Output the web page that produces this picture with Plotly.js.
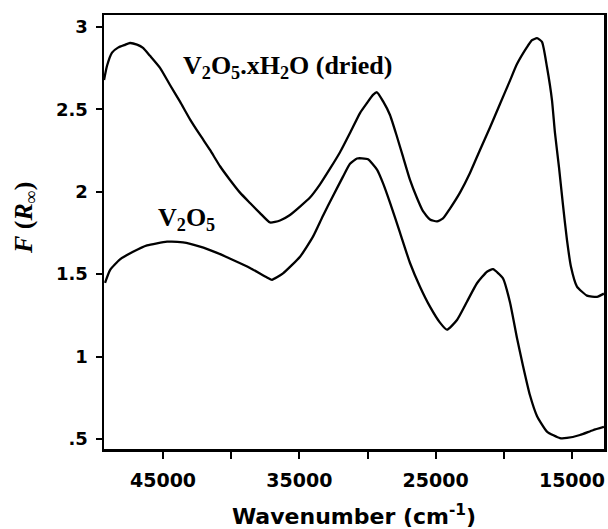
<!DOCTYPE html>
<html>
<head>
<meta charset="utf-8">
<script src="https://cdn.plot.ly/plotly-3.0.1.min.js"></script>
<style>html,body{margin:0;padding:0;background:#fff;}#chart{width:608px;height:529px;}</style>
</head>
<body>
<div id="chart"></div>
<script>
// V2O5.xH2O (dried) spectrum
var hydWavenumber = [49328,49108,48741,48301,47787,47421,46907,46467,45954,45220,44487,43753,43020,42286,41553,40819,40086,39352,38619,37885,37152,36418,35685,34951,34218,33484,32751,32017,31284,30550,30037,29597,29303,28863,28350,27836,27396,26882,26369,25929,25416,24902,24462,23949,23215,22482,21748,21015,20281,19548,19034,18301,17934,17567,17200,16833,16467,16247,15953,15660,15367,15073,14634,13900,13167,12653];
var hydValue = [2.678,2.765,2.845,2.875,2.892,2.903,2.893,2.873,2.825,2.752,2.648,2.547,2.440,2.345,2.254,2.155,2.072,1.995,1.932,1.871,1.814,1.826,1.859,1.910,1.965,2.045,2.140,2.240,2.357,2.478,2.539,2.588,2.604,2.550,2.466,2.334,2.213,2.072,1.962,1.882,1.832,1.820,1.838,1.898,1.995,2.114,2.254,2.390,2.533,2.675,2.775,2.878,2.920,2.932,2.910,2.757,2.557,2.357,2.150,1.920,1.708,1.545,1.425,1.370,1.362,1.382];

// V2O5 spectrum
var oxWavenumber = [49254,48888,48154,47201,46174,44707,43533,42286,41039,39865,38619,37372,37005,36198,34951,33998,33264,32531,31797,31284,30770,30403,29963,29303,28863,28350,27616,26882,26149,25416,24682,24169,23435,22702,21968,21235,20795,20061,19548,19034,18594,18081,17567,16834,15880,15367,14414,13460,12653];
var oxValue = [1.447,1.525,1.590,1.636,1.675,1.697,1.693,1.667,1.629,1.586,1.538,1.480,1.466,1.505,1.606,1.728,1.855,1.975,2.092,2.170,2.202,2.203,2.198,2.135,2.053,1.935,1.752,1.568,1.424,1.303,1.206,1.163,1.222,1.333,1.445,1.515,1.530,1.475,1.330,1.113,0.945,0.765,0.640,0.545,0.505,0.506,0.524,0.553,0.573];

var xTickVals = [45000,40000,35000,30000,25000,20000,15000];
var xTickText = ['45000','','35000','','25000','','15000'];
var yTickVals = [0.5,1,1.5,2,2.5,3];
var yTickText = ['.5','1','1.5','2','2.5','3'];

var labelHyd = 'V<sub>2</sub>O<sub>5</sub>.xH<sub>2</sub>O (dried)';
var labelOx = 'V<sub>2</sub>O<sub>5</sub>';
var yTitle = '<i>F</i> (<i>R</i><sub>∞</sub>)';

var traces = [
  {x: hydWavenumber, y: hydValue, mode: 'lines', line: {color: '#000', width: 2.3, shape: 'spline', smoothing: 0.5}, hoverinfo: 'skip'},
  {x: oxWavenumber, y: oxValue, mode: 'lines', line: {color: '#000', width: 2.3, shape: 'spline', smoothing: 0.5}, hoverinfo: 'skip'}
];

var tickFont = {family: 'DejaVu Sans', size: 19, color: '#000', weight: 'bold'};
var layout = {
  width: 608, height: 529,
  margin: {l: 104, r: 4, t: 15, b: 80},
  paper_bgcolor: '#fff', plot_bgcolor: '#fff',
  showlegend: false,
  xaxis: {
    range: [49330, 12650], autorange: false,
    tickmode: 'array', tickvals: xTickVals, ticktext: xTickText,
    ticks: 'outside', ticklen: 7, tickwidth: 2, tickcolor: '#000',
    showline: true, linecolor: '#000', linewidth: 2.5, mirror: true,
    showgrid: false, zeroline: false,
    tickfont: tickFont, ticklabelstandoff: 6,
    title: {text: 'Wavenumber (cm<sup>-1</sup>)', font: {family: 'DejaVu Sans', size: 22, color: '#000', weight: 'bold'}, standoff: 23}
  },
  yaxis: {
    range: [0.439, 3.073], autorange: false,
    tickmode: 'array', tickvals: yTickVals, ticktext: yTickText,
    ticks: 'outside', ticklen: 6, tickwidth: 2, tickcolor: '#000',
    showline: true, linecolor: '#000', linewidth: 2.5, mirror: true,
    showgrid: false, zeroline: false,
    tickfont: {family: 'DejaVu Sans', size: 18, color: '#000', weight: 'bold'}, ticklabelstandoff: 4
  },
  annotations: [
    {x: 35868, y: 2.76, xref: 'x', yref: 'y', text: labelHyd, showarrow: false, xanchor: 'center', yanchor: 'middle', font: {family: 'Liberation Serif', size: 26, color: '#000', weight: 'bold'}},
    {x: 43313, y: 1.835, xref: 'x', yref: 'y', text: labelOx, showarrow: false, xanchor: 'center', yanchor: 'middle', font: {family: 'Liberation Serif', size: 26, color: '#000', weight: 'bold'}},
    {x: 25, y: 218, xref: 'paper', yref: 'paper', text: yTitle, showarrow: false, textangle: -90, xanchor: 'center', yanchor: 'middle', font: {family: 'Liberation Serif', size: 26, color: '#000', weight: 'bold'}}
  ]
};
// place y-axis title annotation in paper coordinates from pixel position
(function(){
  var plotW = 608 - 104 - 4, plotH = 529 - 15 - 80;
  var a = layout.annotations[2];
  a.x = (25 - 104) / plotW;
  a.y = (529 - 80 - 218) / plotH;
})();

Plotly.newPlot('chart', traces, layout, {staticPlot: true, displayModeBar: false});
</script>
</body>
</html>
